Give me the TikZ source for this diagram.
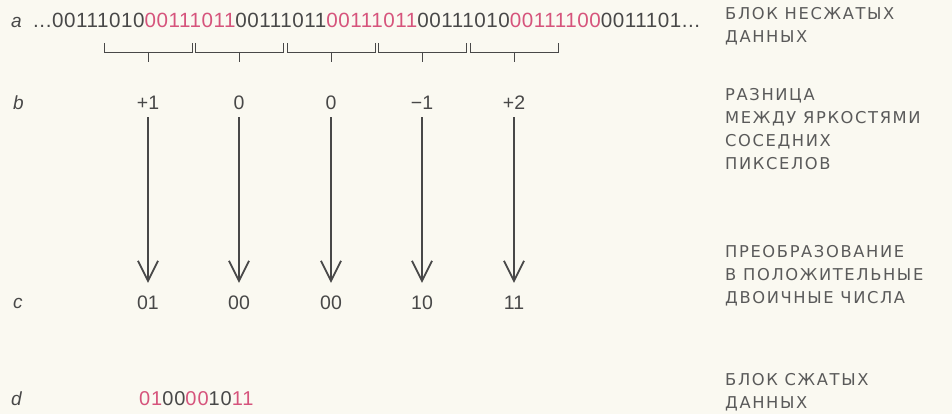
\documentclass[tikz,border=0pt]{standalone}
\usepackage{fontspec}
\setmainfont{Liberation Sans}
\newfontfamily\notefont[LetterSpace=10]{DejaVu Sans}
\usetikzlibrary{arrows.meta}
\definecolor{ink}{RGB}{72,72,72}
\definecolor{hot}{RGB}{214,84,124}
\definecolor{paper}{RGB}{250,249,241}

\begin{document}
\begin{tikzpicture}[x=1pt,y=-1pt,
    every node/.style={inner sep=0pt,text=ink},
    row/.style={anchor=base west,font=\fontsize{19}{19}\selectfont\itshape},
    bits/.style={anchor=base west,font=\fontsize{20.6}{21}\selectfont\addfontfeature{LetterSpace=2.7}},
    val/.style={font=\fontsize{19.5}{20}\selectfont,text height=14pt,text depth=0pt},
    note/.style={anchor=north west,align=left,text=ink!90,font=\notefont\fontsize{16.3}{23}\selectfont},
    bar/.style={draw=ink,line width=0.9pt},
    down/.style={draw=ink,line width=1.8pt,-{Straight Barb[length=20pt,width=20pt]},shorten <=7pt,shorten >=12pt}]

    \fill[paper] (0,0) rectangle (952,414);
    \useasboundingbox (0,0) rectangle (952,414);

    \node[row] (ra) at (11,28) {a};
    \node[row] (rb) at (13,110) {b};
    \node[row] (rc) at (13,308) {c};
    \node[row] (rd) at (11,405) {d};

    \node[bits] (raw) at (33,28) {...00111010\textcolor{hot}{00111011}00111011\textcolor{hot}{00111011}00111010\textcolor{hot}{00111100}0011101...};

    \foreach \x in {148,239,331,422,514} {
        \draw[bar] (\x-44,43) -- (\x-44,52) -- (\x+44,52) -- (\x+44,43) (\x,52) -- (\x,62);
    }

    \foreach \x/\v/\c [count=\i] in {148/+1/01,239/0/00,331/0/00,422/−1/10,514/+2/11} {
        \node[val] (d\i) at (\x,103) {\v};
        \node[val] (c\i) at (\x,302) {\c};
        \draw[down] (d\i) -- (c\i);
    }

    \node[bits,font=\fontsize{20}{20}\selectfont\addfontfeature{LetterSpace=4.5}] (packed) at (139,405) {\textcolor{hot}{01}00\textcolor{hot}{00}10\textcolor{hot}{11}};

    \node[note] (na) at (725,7) {БЛОК НЕСЖАТЫХ\\ДАННЫХ};
    \node[note] (nb) at (725,88) {РАЗНИЦА\\МЕЖДУ ЯРКОСТЯМИ\\СОСЕДНИХ\\ПИКСЕЛОВ};
    \node[note] (nc) at (725,245) {ПРЕОБРАЗОВАНИЕ\\В ПОЛОЖИТЕЛЬНЫЕ\\ДВОИЧНЫЕ ЧИСЛА};
    \node[note] (nd) at (725,373) {БЛОК СЖАТЫХ\\ДАННЫХ};
\end{tikzpicture}
\end{document}
